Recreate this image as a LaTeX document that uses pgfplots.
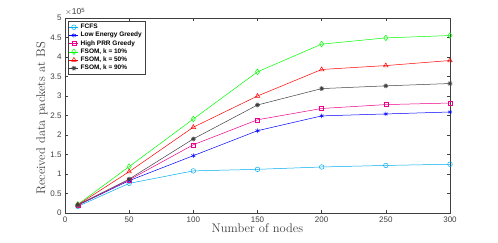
\documentclass[border=0pt]{standalone}
\usepackage{pgfplots}
\pgfplotsset{compat=1.18}
\usetikzlibrary{plotmarks}
\usepackage{fontspec}
\newfontfamily\hel{Liberation Sans}
\definecolor{axgray}{gray}{0.25}
\begin{document}
\begin{tikzpicture}
\begin{axis}[
  scale only axis, width=385pt, height=195pt,
  xmin=0, xmax=300, ymin=0, ymax=500000,
  xtick={0,50,100,150,200,250,300},
  ytick={0,50000,100000,150000,200000,250000,300000,350000,400000,450000,500000},
  yticklabels={0,0.5,1,1.5,2,2.5,3,3.5,4,4.5,5},
  scaled y ticks=false,
  tick align=inside, major tick length=3pt,
  axis line style={axgray, line width=0.4pt},
  every tick/.style={axgray, line width=0.4pt},
  tick label style={font=\hel\fontsize{8}{9}\selectfont, text=axgray},
  /pgf/number format/assume math mode=true,
  xlabel={Number of nodes},
  ylabel={Received data packets at BS},
  label style={font=\fontsize{12.5}{13}\selectfont, text=axgray},
  xlabel style={yshift=5pt},
  ylabel style={yshift=-4pt, xshift=-3pt},
  legend cell align=left,
  legend style={at={(rel axis cs:0,1)}, anchor=north west, xshift=3pt, yshift=-3pt,
    font=\hel\bfseries\fontsize{6.5}{7}\selectfont, inner sep=1pt, row sep=-2pt,
    draw=axgray, line width=0.4pt},
  legend image code/.code={\draw[mark repeat=2, mark phase=2, #1] plot coordinates {(0pt,0pt) (4.5pt,0pt) (9pt,0pt)};},
  every axis plot/.append style={line width=0.5pt},
]
\addplot[cyan, mark=o, mark size=2.3pt] coordinates {(10,17000) (50,76000) (100,108000) (150,112000) (200,118000) (250,122000) (300,125000)};
\addlegendentry{FCFS}
\addplot[blue, mark=asterisk, mark size=2.3pt] coordinates {(10,20000) (50,83000) (100,147000) (150,211000) (200,249000) (250,254000) (300,259000)};
\addlegendentry{Low Energy Greedy}
\addplot[magenta, mark=square, mark size=2pt] coordinates {(10,20000) (50,85000) (100,175000) (150,239000) (200,268000) (250,278000) (300,282000)};
\addlegendentry{High PRR Greedy}
\addplot[green, mark=diamond, mark size=2.8pt] coordinates {(10,22000) (50,119000) (100,241000) (150,362000) (200,433000) (250,449000) (300,455000)};
\addlegendentry{FSOM, k = 10\%}
\addplot[red, mark=triangle, mark size=2.6pt] coordinates {(10,21000) (50,106000) (100,220000) (150,300000) (200,368000) (250,378000) (300,391000)};
\addlegendentry{FSOM, k = 50\%}
\addplot[black!75, mark=10-pointed star, mark size=2.4pt] coordinates {(10,21000) (50,87000) (100,190000) (150,277000) (200,319000) (250,326000) (300,332000)};
\addlegendentry{FSOM, k = 90\%}
\end{axis}
\node[anchor=south west, font=\hel\fontsize{8.5}{9}\selectfont, text=axgray, inner sep=0pt] at (0pt,197pt) {$\times$10\textsuperscript{5}};
\pgfresetboundingbox
\path (-65pt,-29pt) rectangle (433pt,213pt);
\end{tikzpicture}
\end{document}
